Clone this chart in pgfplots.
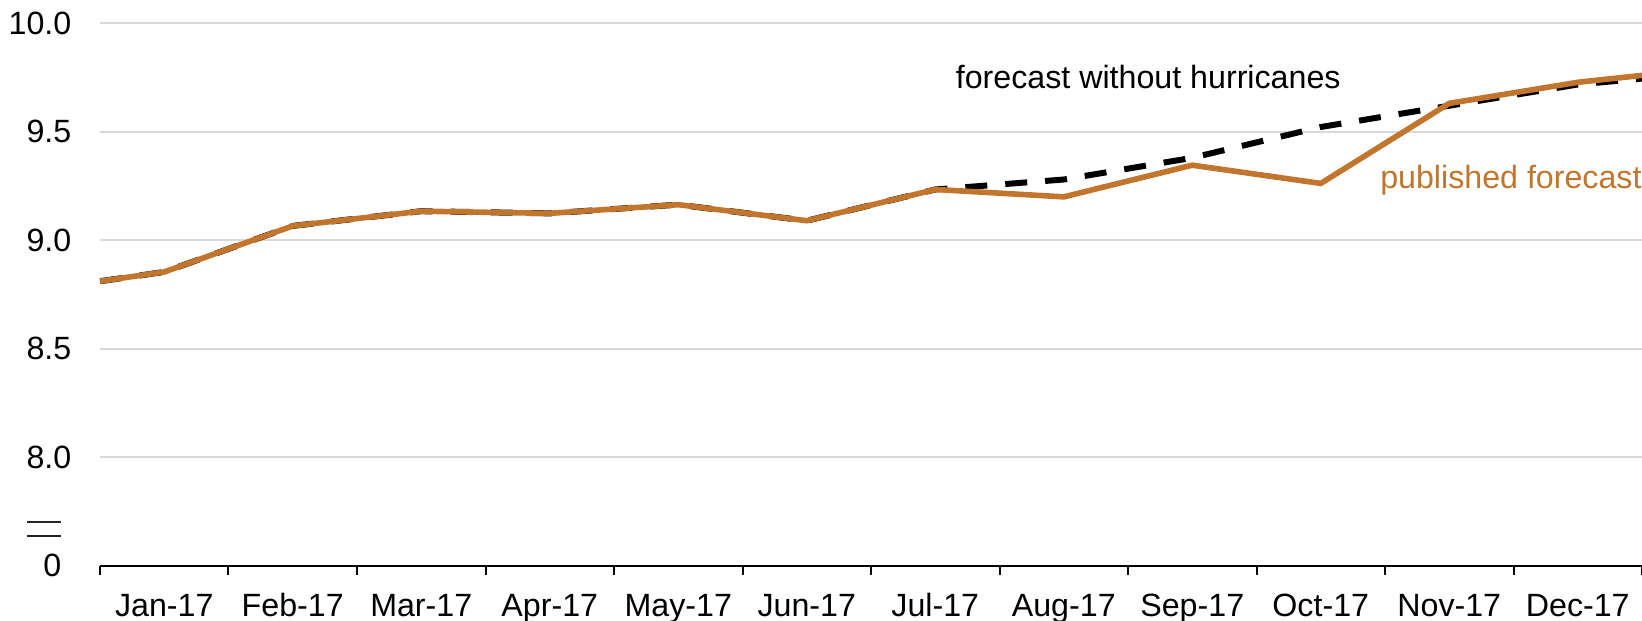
\documentclass[border=0pt]{standalone}
\usepackage{fontspec}
\setmainfont{Liberation Sans}
\usepackage{pgfplots}
\pgfplotsset{compat=1.18}
\usepackage{pgfplotstable}
\definecolor{pub}{RGB}{193,117,45}
\definecolor{gridc}{RGB}{217,217,217}
\pgfplotstableread{
x pub nohur
0 8.811 8.811
0.5 8.854 8.854
1.5 9.066 9.066
2.5 9.134 9.134
3.5 9.124 9.124
4.5 9.164 9.164
5.5 9.090 9.090
6.5 9.234 9.234
7.5 9.200 9.280
8.5 9.346 9.380
9.5 9.262 9.522
10.5 9.631 9.620
11.5 9.728 9.718
12 9.760 9.745
}\data
\begin{document}
\fontsize{16.1bp}{19bp}\selectfont
\begin{tikzpicture}
\begin{axis}[
  name=ax,
  scale only axis,
  width=771bp, height=271.2bp,
  xmin=0, xmax=12, ymin=7.5, ymax=10,
  axis x line*=bottom,
  axis y line*=left,
  y axis line style={draw=none},
  x axis line style={black, line width=1bp},
  ytick={8,8.5,9,9.5,10},
  yticklabels={8.0,8.5,9.0,9.5,10.0},
  ytick style={draw=none},
  ymajorgrids,
  grid style={gridc, line width=0.8bp},
  extra y ticks={7.5},
  extra y tick labels={0},
  extra y tick style={grid=none, yticklabel style={xshift=-5bp}},
  yticklabel style={inner sep=0pt, xshift=-14.15bp},
  xtick={0.5,1.5,...,11.5},
  xticklabels={Jan-17,Feb-17,Mar-17,Apr-17,May-17,Jun-17,Jul-17,Aug-17,Sep-17,Oct-17,Nov-17,Dec-17},
  minor xtick={0,1,...,12},
  major tick length=0pt,
  minor tick length=4.65bp,
  tick align=outside,
  xtick style={black, line width=1bp},
  minor x tick style={black, line width=1bp},
  xticklabel style={inner sep=0pt, anchor=base, yshift=-25.2bp},
  tick label style={font=\fontsize{16.1bp}{19bp}\selectfont},
  /pgf/number format/assume math mode=true,
]
\addplot[black, line width=3bp, dash pattern=on 11bp off 9bp] table[x=x, y=nohur] {\data};
\addplot[pub, line width=2.8bp] table[x=x, y=pub] {\data};
\node[anchor=base west, inner sep=0pt, black] at (axis cs:6.657,9.700) {forecast without hurricanes};
\node[anchor=base west, inner sep=0pt, text=pub] at (axis cs:9.96,9.240) {published forecast};
\end{axis}
\draw[black!85, line width=0.8bp] ([shift={(-36.65bp,21.7bp)}]ax.south west) -- ++(17.15bp,0);
\draw[black!85, line width=0.8bp] ([shift={(-36.65bp,14.85bp)}]ax.south west) -- ++(17.15bp,0);
\pgfresetboundingbox
\path[use as bounding box] ([shift={(-50bp,-27.65bp)}]ax.south west) rectangle ([shift={(0bp,11.65bp)}]ax.north east);
\end{tikzpicture}
\end{document}
